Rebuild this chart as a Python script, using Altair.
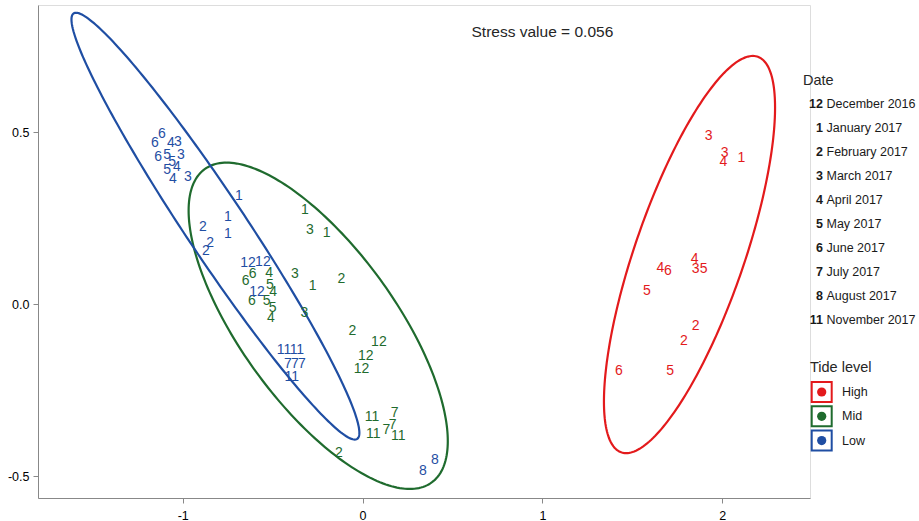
import altair as alt
import numpy as np
import pandas as pd

# ---- NMDS scores, labelled by sampling month, grouped by tide level ----
tide_levels = ["High", "Mid", "Low"]
tide_colors = ["#E31A1C", "#1F6B2E", "#1F4EA3"]

high_month = ["3", "3", "4", "1", "4", "6", "4", "3", "5", "5", "2", "2", "6", "5"]
high_x = [1.924, 2.013, 2.007, 2.106, 1.656, 1.698, 1.846, 1.852, 1.896, 1.581, 1.852, 1.787, 1.426, 1.711]
high_y = [0.487, 0.440, 0.414, 0.424, 0.106, 0.097, 0.131, 0.102, 0.102, 0.039, -0.063, -0.106, -0.194, -0.193]

mid_month = ["1", "1", "1", "3", "3", "3", "2", "2", "2", "12", "12", "12",
             "11", "11", "11", "7", "7", "7", "4", "4", "4", "5", "5", "5", "6", "6", "6"]
mid_x = [-0.321, -0.200, -0.278, -0.293, -0.376, -0.324, -0.117, -0.056, -0.132,
         0.091, 0.018, -0.006, 0.053, 0.059, 0.198, 0.179, 0.133, 0.167,
         -0.519, -0.497, -0.509, -0.515, -0.533, -0.500, -0.611, -0.650, -0.615]
mid_y = [0.274, 0.206, 0.053, 0.214, 0.087, -0.026, 0.073, -0.077, -0.433,
         -0.109, -0.150, -0.189, -0.328, -0.377, -0.384, -0.316, -0.367, -0.350,
         0.090, 0.035, -0.041, 0.056, 0.008, -0.012, 0.088, 0.066, 0.008]

low_month = ["6", "6", "6", "4", "4", "4", "3", "3", "3", "5", "5", "5", "1", "1", "1",
             "2", "2", "2", "12", "12", "12", "11", "11", "11", "7", "7", "7", "8", "8"]
low_x = [-1.154, -1.115, -1.137, -1.065, -1.032, -1.054, -1.026, -1.010, -0.971,
         -1.087, -1.059, -1.087, -0.687, -0.748, -0.748, -0.888, -0.848, -0.871,
         -0.637, -0.554, -0.587, -0.437, -0.365, -0.393, -0.415, -0.376, -0.337, 0.335, 0.402]
low_y = [0.468, 0.495, 0.427, 0.468, 0.399, 0.364, 0.471, 0.434, 0.370,
         0.434, 0.413, 0.390, 0.314, 0.253, 0.204, 0.224, 0.178, 0.155,
         0.120, 0.123, 0.036, -0.133, -0.133, -0.211, -0.173, -0.173, -0.173, -0.484, -0.452]

# ---- confidence ellipses: centre, top-point vector, horizontal conjugate half-width ----
ell_cx = [1.818, -0.2465, -0.818]
ell_cy = [0.144, -0.063, 0.2265]
ell_ax = [0.352, -0.509, -0.775]
ell_ay = [0.577, 0.474, 0.620]
ell_bx = [0.320, 0.510, 0.200]

stress_text = "Stress value = 0.056"

date_keys = ["12", "1", "2", "3", "4", "5", "6", "7", "8", "11"]
date_names = ["December 2016", "January 2017", "February 2017", "March 2017", "April 2017",
              "May 2017", "June 2017", "July 2017", "August 2017", "November 2017"]

# ---- scales / layout ----
x_dom = [-1.8045, 2.488]
y_dom = [-0.5633, 0.869]
W, H = 772, 493
LEFT, TOP = 38, 5
FONT = "Liberation Sans"


def px2x(px):
    return x_dom[0] + (px - LEFT) / W * (x_dom[1] - x_dom[0])


def py2y(py):
    return y_dom[1] - (py - TOP) / H * (y_dom[1] - y_dom[0])


pts = pd.concat([
    pd.DataFrame({"tide": "High", "month": high_month, "x": high_x, "y": high_y}),
    pd.DataFrame({"tide": "Mid", "month": mid_month, "x": mid_x, "y": mid_y}),
    pd.DataFrame({"tide": "Low", "month": low_month, "x": low_x, "y": low_y}),
], ignore_index=True)

t = np.linspace(0, 2 * np.pi, 241)
ell_rows = []
for i, tide in enumerate(tide_levels):
    ex = ell_cx[i] + ell_ax[i] * np.cos(t) + ell_bx[i] * np.sin(t)
    ey = ell_cy[i] + ell_ay[i] * np.cos(t)
    ell_rows.append(pd.DataFrame({"tide": tide, "x": ex, "y": ey, "k": np.arange(len(t))}))
ell = pd.concat(ell_rows, ignore_index=True)

color = alt.Color("tide:N", scale=alt.Scale(domain=tide_levels, range=tide_colors), legend=None)
xs = alt.Scale(domain=x_dom, nice=False, zero=False)
ys = alt.Scale(domain=y_dom, nice=False, zero=False)

x_axis = alt.Axis(values=[-1, 0, 1, 2], title=None, grid=False, labelFontSize=12.5, labelPadding=6,
                  labelExpr="datum.value < 0 ? '-' + format(-datum.value, 'd') : format(datum.value, 'd')")
y_axis = alt.Axis(values=[-0.5, 0, 0.5], title=None, grid=False, minExtent=33, maxExtent=33,
                  labelFontSize=12.5, labelPadding=4,
                  labelExpr="datum.value < 0 ? '-' + format(-datum.value, '.1f') : format(datum.value, '.1f')")

ellipses = alt.Chart(ell).mark_line(strokeWidth=2.2, opacity=1).encode(
    x=alt.X("x:Q", scale=xs, axis=x_axis),
    y=alt.Y("y:Q", scale=ys, axis=y_axis),
    color=color, detail="tide:N", order="k:Q",
)

labels = alt.Chart(pts).mark_text(fontSize=14, font=FONT, baseline="middle", opacity=1).encode(
    x="x:Q", y="y:Q", text="month:N", color=color,
)

stress = alt.Chart(pd.DataFrame({"x": [1.0], "y": [0.79], "t": [stress_text]})).mark_text(
    fontSize=15.5, font=FONT, color="#262626", baseline="middle"
).encode(x="x:Q", y="y:Q", text="t:N")

# ---- legends (placed in the right margin) ----
date_title = alt.Chart(pd.DataFrame({"x": [px2x(803)], "y": [py2y(81)], "t": ["Date"]})).mark_text(
    fontSize=14.5, font=FONT, color="#262626", align="left", baseline="middle"
).encode(x="x:Q", y="y:Q", text="t:N")

rows = np.arange(len(date_keys))
date_df = pd.DataFrame({
    "key": date_keys, "name": date_names,
    "xk": px2x(823), "xn": px2x(826.5),
    "y": [py2y(103.5 + 24.07 * r) for r in rows],
})
date_key_text = alt.Chart(date_df).mark_text(
    fontSize=12.5, font=FONT, fontWeight="bold", color="#1a1a1a", align="right", baseline="middle"
).encode(x="xk:Q", y="y:Q", text="key:N")
date_name_text = alt.Chart(date_df).mark_text(
    fontSize=12.5, font=FONT, color="#1a1a1a", align="left", baseline="middle"
).encode(x="xn:Q", y="y:Q", text="name:N")

tide_title = alt.Chart(pd.DataFrame({"x": [px2x(810)], "y": [py2y(368)], "t": ["Tide level"]})).mark_text(
    fontSize=14.5, font=FONT, color="#262626", align="left", baseline="middle"
).encode(x="x:Q", y="y:Q", text="t:N")

tide_df = pd.DataFrame({
    "tide": tide_levels,
    "xb": px2x(821.7), "xl": px2x(842),
    "y": [py2y(392 + 24.3 * r) for r in range(3)],
})
tide_box = alt.Chart(tide_df).mark_square(filled=False, size=400, strokeWidth=2, opacity=1).encode(
    x="xb:Q", y="y:Q", color=color)
tide_dot = alt.Chart(tide_df).mark_circle(size=85, opacity=1).encode(
    x="xb:Q", y="y:Q", color=color)
tide_lab = alt.Chart(tide_df).mark_text(
    fontSize=12.5, font=FONT, color="#1a1a1a", align="left", baseline="middle"
).encode(x="xl:Q", y="y:Q", text="tide:N")

chart = alt.layer(
    ellipses, labels, stress,
    date_title, date_key_text, date_name_text,
    tide_title, tide_box, tide_dot, tide_lab,
).properties(
    width=W, height=H, padding={"left": 5, "top": 5, "right": 0, "bottom": 0}
).configure_view(stroke=None).configure_axis(
    domainColor="#C4C4C4", tickColor="#C4C4C4", tickSize=3,
    labelColor="#4D4D4D", labelFont=FONT, domainWidth=1,
).configure(background="white")

chart.save("out.html", embed_options={"renderer": "svg", "actions": False})
